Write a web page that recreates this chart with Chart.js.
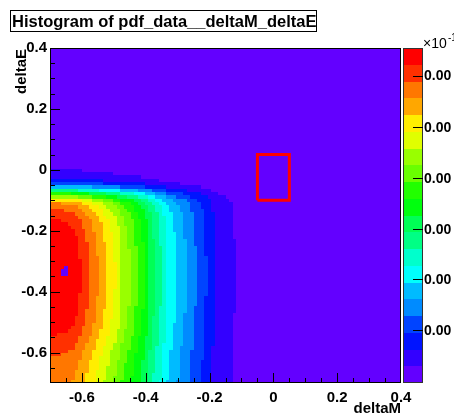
<!DOCTYPE html>
<html>
<head>
<meta charset="utf-8">
<script src="https://cdn.jsdelivr.net/npm/chart.js@4.4.1/dist/chart.umd.min.js"></script>
<style>
  html, body { margin: 0; padding: 0; background: #fff; }
  canvas { display: block; }
</style>
</head>
<body>
<canvas id="chart" width="454" height="416"></canvas>
<script>
// histogram axes
const deltaMRange = [-0.7, 0.4];
const deltaERange = [-0.7, 0.4];
const axisTicks = [-0.6, -0.4, -0.2, 0, 0.2, 0.4];

// pdf along deltaM, one value per bin, in colour-level units
const deltaMProfile = [
  20.3, 20.3, 20.25, 20.2, 20.15, 20.05, 19.9, 19.65, 19.3, 18.85,
  18.5, 18.15, 17.7, 17.3, 16.9, 16.45, 16.0, 15.6, 15.2, 14.75,
  14.1, 13.7, 13.3, 12.85, 12.3, 11.8, 11.3, 10.7, 10.0, 9.3,
  8.8, 8.2, 7.6, 7.05, 6.65, 6.25, 5.85, 5.5, 5.15, 4.8,
  4.45, 4.1, 3.75, 3.4, 3.05, 2.6, 2.2, 1.9, 1.75, 1.55,
  1.4, 1.2, 1.03, 0.9, 0.85, 0.8, 0.76, 0.72, 0.69, 0.66,
  0.63, 0.6, 0.58, 0.56, 0.54, 0.52, 0.5, 0.49, 0.48, 0.47,
  0.46, 0.45, 0.44, 0.43, 0.42, 0.41, 0.4, 0.39, 0.38, 0.37,
  0.36, 0.35, 0.35, 0.34, 0.34, 0.33, 0.33, 0.32, 0.32, 0.31,
  0.31, 0.3, 0.3, 0.3, 0.29, 0.29, 0.29, 0.28, 0.28, 0.28
];

// relative pdf shape along deltaE, one value per bin, bottom to top
const deltaEProfile = [
  0.85, 0.855, 0.86, 0.865, 0.87, 0.875, 0.88, 0.885, 0.89, 0.897,
  0.905, 0.913, 0.922, 0.93, 0.938, 0.945, 0.951, 0.956, 0.961, 0.965,
  0.969, 0.972, 0.975, 0.978, 0.98, 0.982, 0.984, 0.986, 0.988, 0.989,
  0.99, 0.99, 0.99, 0.99, 0.989, 0.988, 0.986, 0.984, 0.982, 0.98,
  0.977, 0.974, 0.971, 0.967, 0.963, 0.958, 0.953, 0.947, 0.94, 0.925,
  0.91, 0.893, 0.87, 0.84, 0.78, 0.67, 0.55, 0.41, 0.28, 0.18,
  0.12, 0.085, 0.065, 0.052, 0.045, 0.042, 0.04, 0.039, 0.038, 0.037,
  0.036, 0.036, 0.035, 0.035, 0.035, 0.034, 0.034, 0.034, 0.033, 0.033,
  0.033, 0.033, 0.032, 0.032, 0.032, 0.032, 0.031, 0.031, 0.031, 0.031,
  0.031, 0.03, 0.03, 0.03, 0.03, 0.03, 0.03, 0.03, 0.03, 0.03
];

// bins inside the red blob that came out (almost) empty: [deltaM bin, deltaE bin]
const emptyBins = [[4, 34], [3, 33], [4, 33], [3, 32], [4, 32]];

// signal box drawn on top
const boxM = [-0.05, 0.05];
const boxE = [-0.1, 0.05];

// colour scale
const nLevels = 20;
const zTicks = [3.15, 6.2, 9.2, 12.25, 15.3, 18.35];
const zTickLabels = ['0.00', '0.00', '0.00', '0.00', '0.00', '0.00'];

// ROOT "pretty" palette hues, one per contour level (violet -> red)
const levelHues = [263.2, 252, 235.2, 224, 207.2, 196, 179.2, 168, 151.2, 140,
                   123.2, 112, 95.2, 84, 67.2, 56, 39.2, 28, 11.2, 0];
const levelColors = levelHues.map(h => `hsl(${h}, 100%, 50%)`);

const FONT = "'Liberation Sans', Arial, Helvetica, sans-serif";

// build the cell table from the two profiles
const nM = deltaMProfile.length;
const nE = deltaEProfile.length;
const mWidth = (deltaMRange[1] - deltaMRange[0]) / nM;
const eWidth = (deltaERange[1] - deltaERange[0]) / nE;
const cells = [];
for (let j = 0; j < nE; j++) {
  for (let i = 0; i < nM; i++) {
    let level = Math.min(nLevels - 1, Math.floor(deltaMProfile[i] * deltaEProfile[j]));
    if (emptyBins.some(b => b[0] === i && b[1] === j)) level = 0;
    cells.push({
      m0: deltaMRange[0] + i * mWidth, m1: deltaMRange[0] + (i + 1) * mWidth,
      e0: deltaERange[0] + j * eWidth, e1: deltaERange[0] + (j + 1) * eWidth,
      level
    });
  }
}

const boxPoints = [
  { x: boxM[0], y: boxE[0] }, { x: boxM[1], y: boxE[0] },
  { x: boxM[1], y: boxE[1] }, { x: boxM[0], y: boxE[1] },
  { x: boxM[0], y: boxE[0] }
];

function fmt(v) {
  return String(Number(v.toFixed(1)));
}

const histPlugin = {
  id: 'colz',
  beforeDatasetsDraw(chart) {
    const { ctx, scales: { x, y } } = chart;
    ctx.save();
    cells.forEach(c => {
      const x0 = Math.round(x.getPixelForValue(c.m0));
      const x1 = Math.round(x.getPixelForValue(c.m1));
      const y0 = Math.round(y.getPixelForValue(c.e1));
      const y1 = Math.round(y.getPixelForValue(c.e0));
      ctx.fillStyle = levelColors[c.level];
      ctx.fillRect(x0, y0, x1 - x0, y1 - y0);
    });
    ctx.restore();
  },
  afterDraw(chart) {
    const { ctx, chartArea: a, scales: { x, y, z } } = chart;
    ctx.save();

    // frame
    ctx.strokeStyle = '#000';
    ctx.lineWidth = 1;
    ctx.strokeRect(Math.round(a.left) + 0.5, Math.round(a.top) + 0.5,
                   Math.round(a.right - a.left) - 1, Math.round(a.bottom - a.top) - 1);

    // tick marks, drawn inwards like ROOT
    ctx.beginPath();
    for (let k = 1; k < 22; k++) {
      const v = deltaMRange[0] + k * 0.05;
      const major = axisTicks.some(t => Math.abs(t - v) < 1e-6);
      const len = major ? 10 : 5;
      const px = Math.round(x.getPixelForValue(v)) + 0.5;
      ctx.moveTo(px, a.bottom);
      ctx.lineTo(px, a.bottom - len);
      const py = Math.round(y.getPixelForValue(deltaERange[0] + k * 0.05)) + 0.5;
      ctx.moveTo(a.left, py);
      ctx.lineTo(a.left + len, py);
    }
    ctx.stroke();

    // colour bar
    const barL = a.right + 2, barR = a.right + 22;
    for (let k = 0; k < nLevels; k++) {
      const t = Math.round(z.getPixelForValue(k + 1));
      const b = Math.round(z.getPixelForValue(k));
      ctx.fillStyle = levelColors[k];
      ctx.fillRect(barL, t, barR - barL, b - t);
    }
    ctx.strokeStyle = '#333';
    ctx.strokeRect(barL + 0.5, Math.round(a.top) + 0.5, barR - barL - 1, Math.round(a.bottom - a.top) - 1);
    ctx.strokeStyle = '#000';
    ctx.beginPath();
    zTicks.forEach(t => {
      const py = Math.round(z.getPixelForValue(t)) + 0.5;
      ctx.moveTo(barR - 10, py);
      ctx.lineTo(barR, py);
    });
    ctx.stroke();
    ctx.fillStyle = '#000';
    ctx.font = `bold 14px ${FONT}`;
    ctx.textAlign = 'left';
    ctx.textBaseline = 'middle';
    zTicks.forEach((t, n) => ctx.fillText(zTickLabels[n], barR + 1, z.getPixelForValue(t) + 1));

    // exponent of the colour axis
    ctx.textBaseline = 'alphabetic';
    ctx.font = `14px ${FONT}`;
    ctx.fillText('\u00d710', barR, 48);
    ctx.font = `10px ${FONT}`;
    ctx.fillText('-1', barR + 25, 41);

    // axis titles
    ctx.font = `bold 15px ${FONT}`;
    ctx.textAlign = 'right';
    ctx.fillText('deltaM', a.right, 413);
    ctx.save();
    ctx.translate(26, a.top + 1);
    ctx.rotate(-Math.PI / 2);
    ctx.textAlign = 'right';
    ctx.fillText('deltaE', 0, 0);
    ctx.restore();

    // title box
    ctx.fillStyle = '#fff';
    ctx.fillRect(10, 10, 307, 22);
    ctx.strokeStyle = '#000';
    ctx.strokeRect(10.5, 10.5, 306, 21);
    ctx.fillStyle = '#000';
    ctx.textAlign = 'left';
    ctx.font = `bold 16.5px ${FONT}`;
    ctx.fillText('Histogram of pdf_data__deltaM_deltaE', 12, 27);

    ctx.restore();
  }
};

const tickFont = { family: FONT, size: 15, weight: 'bold' };

new Chart(document.getElementById('chart').getContext('2d'), {
  type: 'scatter',
  data: {
    datasets: [{
      data: boxPoints,
      xAxisID: 'x',
      yAxisID: 'y',
      showLine: true,
      borderColor: '#ff0000',
      borderWidth: 3,
      pointRadius: 0,
      fill: false,
      tension: 0
    }]
  },
  options: {
    responsive: false,
    animation: false,
    events: [],
    layout: { padding: { left: 0, top: 48, right: 53, bottom: 0 } },
    plugins: {
      legend: { display: false },
      tooltip: { enabled: false },
      title: { display: false }
    },
    scales: {
      x: {
        type: 'linear',
        min: deltaMRange[0],
        max: deltaMRange[1],
        afterBuildTicks: s => { s.ticks = axisTicks.map(v => ({ value: v })); },
        afterFit: s => { s.height = 33; },
        grid: { display: false, drawTicks: false },
        border: { display: false },
        ticks: { font: tickFont, color: '#000', padding: 6, maxRotation: 0, autoSkip: false, callback: v => fmt(v) }
      },
      y: {
        type: 'linear',
        min: deltaERange[0],
        max: deltaERange[1],
        afterBuildTicks: s => { s.ticks = axisTicks.map(v => ({ value: v })); },
        afterFit: s => { s.width = 50; },
        grid: { display: false, drawTicks: false },
        border: { display: false },
        ticks: { font: tickFont, color: '#000', padding: 3, autoSkip: false, callback: v => fmt(v) }
      },
      z: {
        type: 'linear',
        axis: 'y',
        display: false,
        min: 0,
        max: nLevels
      }
    }
  },
  plugins: [histPlugin]
});
</script>
</body>
</html>
